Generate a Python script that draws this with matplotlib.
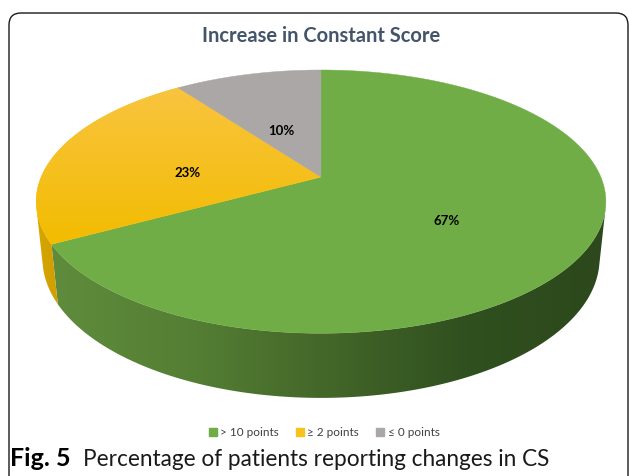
import numpy as np
import matplotlib.pyplot as plt
from matplotlib.patches import Polygon, FancyBboxPatch
from matplotlib.lines import Line2D
from matplotlib.colors import to_rgb

# slice data, clockwise from 12 o'clock
labels = ['> 10 points', '\u2265 2 points', '\u2264 0 points']
shares = [67, 23, 10]
top_colors = ['#70AD47', '#F8C21C', '#ABA7A6']
# side wall colour stops (left -> right)
side_stops = [
    ['#5F8C3C', '#557F34', '#436629', '#30501F', '#2C481C'],
    ['#D6A600', '#CF9E00'],
    ['#8C8988', '#7A7776'],
]
title = 'Increase in Constant Score'
caption_bold = 'Fig. 5'
caption = 'Percentage of patients reporting changes in CS'

# camera for the 3d pie
F, D, TILT = 1332.0, 4.76, np.radians(27)
CX, CY = 321.0, 177.0
H = 0.23
SIN_T, COS_T = np.sin(TILT), np.cos(TILT)


def project(X, Y, Z):
    yc = Z * COS_T + Y * SIN_T
    zc = D + Y * COS_T - Z * SIN_T
    return CX + F * X / zc, CY - F * yc / zc


def ring(t0, t1, z, n=200):
    t = np.radians(np.linspace(t0, t1, n))
    return np.column_stack(project(np.cos(t), np.sin(t), np.full_like(t, z)))


def gradient_fill(ax, poly, colors, horizontal=True):
    cols = np.array([to_rgb(c) for c in colors])
    n = 256
    pos = np.linspace(0, 1, len(cols))
    s = np.linspace(0, 1, n)
    grad = np.stack([np.interp(s, pos, cols[:, k]) for k in range(3)], axis=-1)
    img = grad[None, :, :] if horizontal else grad[:, None, :]
    x0, y0 = poly.get_xy().min(axis=0)
    x1, y1 = poly.get_xy().max(axis=0)
    im = ax.imshow(img, extent=(x0, x1, y1, y0), aspect='auto',
                   interpolation='bilinear', zorder=poly.get_zorder())
    im.set_clip_path(poly)


fig = plt.figure(figsize=(6.29, 4.76), dpi=100)
ax = fig.add_axes([0, 0, 1, 1])
ax.set_xlim(0, 629)
ax.set_ylim(476, 0)
ax.axis('off')

# outer rounded frame (open at the bottom)
frame = FancyBboxPatch((9, 13), 619, 540, boxstyle='round,pad=0,rounding_size=12',
                       fill=False, ec='#1a1a1a', lw=1.0, zorder=1)
ax.add_patch(frame)

# slice angle ranges, going clockwise from the top
bounds = 90 - 360 * np.concatenate([[0], np.cumsum(shares)]) / sum(shares)
delta = np.degrees(np.arcsin(1 / (D * COS_T)))
front = (-180 + delta, -delta)  # visible part of the wall

for i in range(len(shares)):
    w0 = max(bounds[i + 1], front[0])
    w1 = min(bounds[i], front[1])
    if w1 > w0:
        top = ring(w0, w1, 0)
        bot = ring(w1, w0, -H)
        wall = Polygon(np.vstack([top, bot]), closed=True, fc='none', ec='none', zorder=2)
        ax.add_patch(wall)
        gradient_fill(ax, wall, side_stops[i])

for i in range(len(shares)):
    arc = ring(bounds[i], bounds[i + 1], 0)
    pts = np.vstack([[project(0, 0, 0)], arc])
    face = Polygon(pts, closed=True, fc=top_colors[i], ec=top_colors[i], lw=0.3, zorder=3)
    ax.add_patch(face)
    if i == 1:
        gradient_fill(ax, face, ['#F9C440', '#F2BC00'], horizontal=False)

# value labels on the slices
for i, v in enumerate(shares):
    mid = np.radians((bounds[i] + bounds[i + 1]) / 2)
    lx, ly = project(0.5 * np.cos(mid), 0.5 * np.sin(mid), -0.04)
    ax.text(lx, ly, f'{v}%', ha='center', va='center', fontsize=9.5,
            fontweight='bold', family=['Lato', 'DejaVu Sans'], color='black', zorder=5)

ax.text(321, 36, title, ha='center', va='center', fontsize=14.5, fontweight='bold',
        family=['Lato', 'DejaVu Sans'], color='#44546A', zorder=5)

handles = [Line2D([], [], ls='', marker='s', ms=6, mfc=c, mec=c) for c in top_colors]
leg = ax.legend(handles, labels, loc='center', bbox_to_anchor=(324, 433),
                bbox_transform=ax.transData, ncol=3, frameon=False,
                handlelength=0.7, handletextpad=0.3, columnspacing=1.4,
                prop={'family': ['Lato', 'DejaVu Sans'], 'size': 8.5})
for t in leg.get_texts():
    t.set_color('#404040')

fb = ax.text(10, 459, caption_bold, ha='left', va='center', fontsize=18,
             fontweight='bold', family=['Lato', 'DejaVu Sans'], color='black')
ax.annotate(caption, xy=(1, 0), xycoords=fb, xytext=(9, 0), textcoords='offset points',
            ha='left', va='bottom', fontsize=16.3, family=['Lato', 'DejaVu Sans'],
            color='#1a1a1a')

fig.savefig('out.png', dpi=100)
